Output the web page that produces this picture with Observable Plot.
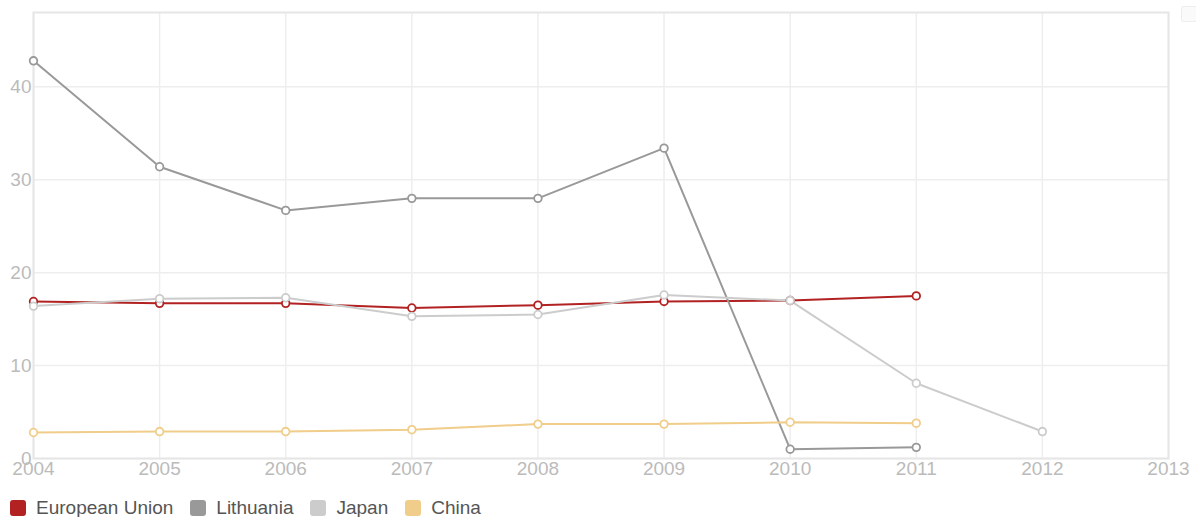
<!DOCTYPE html>
<html>
<head>
<meta charset="utf-8">
<script src="https://cdn.jsdelivr.net/npm/d3@7"></script>
<script src="https://cdn.jsdelivr.net/npm/@observablehq/plot@0.6"></script>
<style>
  body { margin: 0; background: #fff; font-family: "Liberation Sans", Arial, sans-serif; position: relative; }
  #chart svg { display: block; }
  #legend { display: flex; gap: 17px; margin-left: 10px; margin-top: 8px; height: 20px; font-size: 19px; color: #555; line-height: 20px; }
  .item { display: flex; align-items: center; gap: 10px; }
  .sw { width: 16px; height: 16px; border-radius: 3px; display: inline-block; }
  #btn { position: absolute; left: 1181px; top: 6px; width: 14px; height: 14px; border: 1px solid #eee; background: #fafafa; border-radius: 2px; }
</style>
</head>
<body>
<div id="chart"></div>
<div id="legend"></div>
<div id="btn"></div>
<script>
const years = [2004, 2005, 2006, 2007, 2008, 2009, 2010, 2011, 2012];
const seriesNames = ["European Union", "Lithuania", "Japan", "China"];
const seriesColors = ["#b22222", "#999999", "#cccccc", "#f0cd8a"];
const euValues = [16.9, 16.7, 16.7, 16.2, 16.5, 16.9, 17.0, 17.5, null];
const lithuaniaValues = [42.8, 31.4, 26.7, 28.0, 28.0, 33.4, 1.0, 1.2, null];
const japanValues = [16.4, 17.2, 17.3, 15.3, 15.5, 17.6, 17.0, 8.1, 2.9];
const chinaValues = [2.8, 2.9, 2.9, 3.1, 3.7, 3.7, 3.9, 3.8, null];
const yTicks = [0, 10, 20, 30, 40];
const xTicks = [2004, 2005, 2006, 2007, 2008, 2009, 2010, 2011, 2012, 2013];

const allValues = [euValues, lithuaniaValues, japanValues, chinaValues];
const data = [];
seriesNames.forEach((s, i) => {
  years.forEach((y, j) => {
    const v = allValues[i][j];
    if (v != null) data.push({series: s, year: y, value: v});
  });
});

const chart = Plot.plot({
  width: 1196,
  height: 490,
  marginLeft: 33,
  marginRight: 28,
  marginTop: 12,
  marginBottom: 32,
  style: {fontFamily: "'Liberation Sans', Arial, sans-serif", fontSize: "19px", color: "#bbb", background: "#fff"},
  x: {domain: [2004, 2013], label: null},
  y: {domain: [0, 48], label: null},
  color: {domain: seriesNames, range: seriesColors},
  marks: [
    Plot.gridX(xTicks, {stroke: "#eeeeee", strokeOpacity: 1, strokeWidth: 1.5}),
    Plot.gridY(yTicks, {stroke: "#eeeeee", strokeOpacity: 1, strokeWidth: 1.5}),
    Plot.frame({stroke: "#e6e6e6", strokeWidth: 2}),
    Plot.axisX({ticks: xTicks, tickFormat: d => String(d), tickSize: 0, tickPadding: 3, fill: "#bbb", fontSize: 19}),
    Plot.axisY({ticks: yTicks, tickSize: 0, tickPadding: 2, fill: "#bbb", fontSize: 19}),
    Plot.line(data, {x: "year", y: "value", z: "series", stroke: "series", strokeWidth: 2}),
    Plot.dot(data, {x: "year", y: "value", stroke: "series", fill: "#fff", r: 3.8, strokeWidth: 1.8})
  ]
});
document.getElementById("chart").appendChild(chart);

const legend = document.getElementById("legend");
seriesNames.forEach((s, i) => {
  const it = document.createElement("div");
  it.className = "item";
  it.innerHTML = `<span class="sw" style="background:${seriesColors[i]}"></span><span>${s}</span>`;
  legend.appendChild(it);
});
</script>
</body>
</html>
